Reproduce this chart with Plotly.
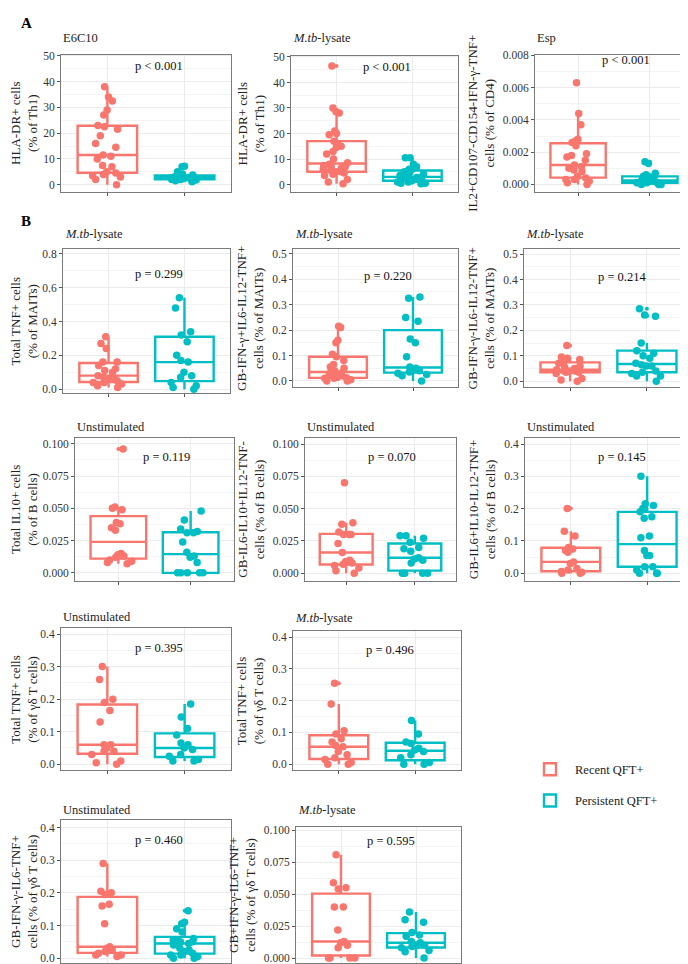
import plotly.graph_objects as go

# ---------------- DATA ----------------
GROUPS = ["Recent QFT+", "Persistent QFT+"]

panel_titles = ["E6C10", "<i>M.tb</i>-lysate", "Esp",
                "<i>M.tb</i>-lysate", "<i>M.tb</i>-lysate", "<i>M.tb</i>-lysate",
                "Unstimulated", "Unstimulated", "Unstimulated",
                "Unstimulated", "<i>M.tb</i>-lysate",
                "Unstimulated", "<i>M.tb</i>-lysate"]

y_titles = ["HLA-DR+ cells<br>(% of Th1)", "HLA-DR+ cells<br>(% of Th1)",
            "IL2+CD107-CD154-IFN-γ-TNF+<br>cells (% of CD4)",
            "Total TNF+ cells<br>(% of MAITs)", "GB-IFN-γ+IL6-IL12-TNF+<br>cells (% of MAITs)",
            "GB-IFN-γ-IL6-IL12-TNF+<br>cells (% of MAITs)",
            "Total IL10+ cells<br>(% of B cells)", "GB-IL6-IL10+IL12-TNF-<br>cells (% of B cells)",
            "GB-IL6+IL10-IL12-TNF+<br>cells (% of B cells)",
            "Total TNF+ cells<br>(% of γδ T cells)", "Total TNF+ cells<br>(% of γδ T cells)",
            "GB-IFN-γ-IL6-TNF+<br>cells (% of γδ T cells)", "GB+IFN-γ-IL6-TNF+<br>cells (% of γδ T cells)"]

p_labels = ["p < 0.001", "p < 0.001", "p < 0.001",
            "p = 0.299", "p = 0.220", "p = 0.214",
            "p = 0.119", "p = 0.070", "p = 0.145",
            "p = 0.395", "p = 0.496",
            "p = 0.460", "p = 0.595"]
p_label_y = [46, 46, 0.0077, 0.68, 0.414, 0.41, 0.090, 0.090, 0.36, 0.357, 0.36, 0.363, 0.092]

y_tick_max = [50, 50, 0.008, 0.8, 0.5, 0.5, 0.1, 0.1, 0.4, 0.4, 0.4, 0.4, 0.1]
y_tick_step = [10, 10, 0.002, 0.2, 0.1, 0.1, 0.025, 0.025, 0.1, 0.1, 0.1, 0.1, 0.025]
y_tick_format = ["d", "d", ".3f", ".1f", ".1f", ".1f", ".3f", ".3f", ".1f", ".1f", ".1f", ".1f", ".3f"]

a1_recent = [0, 2, 3, 3.5, 4, 4.5, 5, 7, 7.5, 10, 11, 11.5, 14.5, 16, 19, 21.5, 22.5, 23, 27, 29, 32.5, 34, 38]
a1_persistent = [1.2, 1.5, 1.8, 2.0, 2.0, 2.2, 2.4, 2.5, 2.6, 2.7, 2.8, 2.9, 3.0, 3.2, 3.3, 3.8, 4.2, 5.0, 7.0, 7.2]
a2_recent = [0.3, 1, 2, 3.5, 4, 4.5, 5, 5, 5.5, 6, 6.5, 7, 7, 7.5, 8, 8.5, 10, 12, 13, 14.5, 15, 16, 17, 19.5, 20, 21, 28, 28.5, 30, 46.5]
a2_persistent = [0.3, 0.5, 0.5, 1, 1, 1.5, 1.5, 2, 2, 2.5, 2.8, 3, 3, 3.5, 3.5, 4, 4.5, 5, 6, 6, 7, 8, 10.5, 10.5]
a3_recent = [0, 0.0001, 0.0002, 0.0003, 0.0003, 0.0004, 0.0005, 0.0008, 0.0009, 0.0010, 0.0011, 0.0012, 0.0015,
             0.0017, 0.0018, 0.0019, 0.0024, 0.0026, 0.0027, 0.0028, 0.0037, 0.0044, 0.0063]
a3_persistent = [0, 0, 0, 0.0001, 0.0001, 0.0001, 0.0002, 0.0002, 0.0002, 0.0003, 0.0003, 0.0004, 0.0005, 0.0005,
                 0.0006, 0.0007, 0.0013, 0.0014]
b1_mait_tnf_recent = [0.01, 0.02, 0.03, 0.04, 0.04, 0.05, 0.06, 0.07, 0.07, 0.08, 0.10, 0.11, 0.12, 0.14, 0.16, 0.16, 0.24, 0.27, 0.31]
b1_mait_tnf_persistent = [0, 0.01, 0.02, 0.04, 0.07, 0.08, 0.10, 0.16, 0.17, 0.20, 0.28, 0.32, 0.34, 0.48, 0.54]
b1_mait_ifng_recent = [0, 0, 0.005, 0.01, 0.01, 0.012, 0.015, 0.02, 0.025, 0.028, 0.03, 0.04, 0.05, 0.055, 0.065, 0.08,
                       0.095, 0.105, 0.15, 0.16, 0.21, 0.215]
b1_mait_ifng_persistent = [0, 0.02, 0.025, 0.03, 0.035, 0.04, 0.045, 0.05, 0.055, 0.095, 0.15, 0.165, 0.235, 0.25, 0.325, 0.33]
b1_mait_gb_recent = [0, 0.005, 0.01, 0.03, 0.035, 0.035, 0.04, 0.04, 0.04, 0.045, 0.05, 0.055, 0.06, 0.07, 0.075, 0.085,
                     0.09, 0.095, 0.14]
b1_mait_gb_persistent = [0, 0.02, 0.02, 0.03, 0.035, 0.04, 0.06, 0.06, 0.065, 0.07, 0.09, 0.10, 0.11, 0.12, 0.15, 0.255, 0.26, 0.285]
b2_il10_recent = [0.007, 0.008, 0.009, 0.010, 0.012, 0.013, 0.014, 0.015, 0.033, 0.035, 0.038, 0.039, 0.049, 0.050, 0.051, 0.096]
b2_il10_persistent = [0, 0, 0, 0, 0, 0.008, 0.012, 0.013, 0.016, 0.024, 0.031, 0.031, 0.032, 0.034, 0.041, 0.048]
b2_gbil10_recent = [0, 0.002, 0.004, 0.006, 0.007, 0.008, 0.009, 0.010, 0.016, 0.023, 0.030, 0.030, 0.030, 0.032, 0.038, 0.039, 0.070]
b2_gbil10_persistent = [0, 0, 0, 0, 0.008, 0.010, 0.011, 0.012, 0.017, 0.019, 0.020, 0.024, 0.027, 0.029, 0.029]
b2_gbil6_recent = [0, 0, 0.003, 0.005, 0.01, 0.015, 0.03, 0.035, 0.065, 0.07, 0.075, 0.08, 0.115, 0.13, 0.20]
b2_gbil6_persistent = [0, 0, 0, 0.01, 0.02, 0.02, 0.055, 0.055, 0.07, 0.11, 0.115, 0.17, 0.175, 0.19, 0.20, 0.21, 0.215, 0.30]
b3_gd_unstim_recent = [0, 0.005, 0.01, 0.03, 0.04, 0.04, 0.05, 0.06, 0.06, 0.13, 0.165, 0.19, 0.20, 0.26, 0.30]
b3_gd_unstim_persistent = [0.01, 0.01, 0.015, 0.025, 0.03, 0.045, 0.05, 0.06, 0.065, 0.09, 0.11, 0.145, 0.185]
b3_gd_mtb_recent = [0, 0, 0.005, 0.015, 0.02, 0.03, 0.04, 0.055, 0.06, 0.07, 0.08, 0.095, 0.105, 0.19, 0.255]
b3_gd_mtb_persistent = [0, 0, 0.005, 0.02, 0.03, 0.04, 0.045, 0.05, 0.065, 0.07, 0.095, 0.138]
b4_gd_unstim_recent = [0.005, 0.01, 0.01, 0.015, 0.02, 0.025, 0.03, 0.035, 0.105, 0.16, 0.165, 0.195, 0.2, 0.205, 0.29]
b4_gd_unstim_persistent = [0, 0, 0.005, 0.01, 0.01, 0.015, 0.02, 0.025, 0.03, 0.04, 0.045, 0.05, 0.05, 0.055, 0.055, 0.06,
                           0.08, 0.09, 0.105, 0.11, 0.145]
b4_gd_mtb_recent = [0, 0, 0, 0, 0.008, 0.010, 0.012, 0.013, 0.022, 0.040, 0.040, 0.054, 0.055, 0.059, 0.081]
b4_gd_mtb_persistent = [0, 0.005, 0.006, 0.008, 0.009, 0.010, 0.010, 0.012, 0.013, 0.017, 0.018, 0.020, 0.028, 0.030, 0.036]

recent_sets = [a1_recent, a2_recent, a3_recent, b1_mait_tnf_recent, b1_mait_ifng_recent, b1_mait_gb_recent,
               b2_il10_recent, b2_gbil10_recent, b2_gbil6_recent, b3_gd_unstim_recent, b3_gd_mtb_recent,
               b4_gd_unstim_recent, b4_gd_mtb_recent]
persistent_sets = [a1_persistent, a2_persistent, a3_persistent, b1_mait_tnf_persistent, b1_mait_ifng_persistent,
                   b1_mait_gb_persistent, b2_il10_persistent, b2_gbil10_persistent, b2_gbil6_persistent,
                   b3_gd_unstim_persistent, b3_gd_mtb_persistent, b4_gd_unstim_persistent, b4_gd_mtb_persistent]

# ---------------- LAYOUT / STYLE ----------------
W, H = 688, 964
COLORS = ["#F8766D", "#00BFC4"]
FONT = "Liberation Serif"
BOX_WIDTH = 0.77

# panel boxes in pixels: left, top, right, bottom
boxes = [(53, 42, 223, 180), (283, 43, 450, 180), (527, 42, 685, 180),
         (55, 238, 222, 383), (285, 238, 450, 377), (516, 238, 685, 377),
         (67, 428, 226, 572), (297, 428, 448, 572), (517, 428, 685, 572),
         (53, 620, 223, 763), (285, 623, 453, 763),
         (53, 813, 223, 957), (288, 820, 453, 957)]
y_ranges = [(-2.7, 50.4), (-2.8, 50.5), (-0.00045, 0.00804),
            (-0.024, 0.827), (-0.025, 0.518), (-0.024, 0.519),
            (-0.0062, 0.1046), (-0.0059, 0.1048), (-0.0236, 0.419),
            (-0.019, 0.417), (-0.0197, 0.418),
            (-0.015, 0.4226), (-0.0039, 0.1026)]
ptitle_offset_px = [17, 18, 17, 15, 15, 15, 11, 11, 11, 12, 14, 10, 17]

fig = go.Figure()
annotations = []
layout_axes = {}

for i in range(len(boxes)):
    k = "" if i == 0 else str(i + 1)
    xa, ya = "x" + k, "y" + k
    l, t, r, b = boxes[i]
    for g, (vals, col) in enumerate(zip([recent_sets[i], persistent_sets[i]], COLORS)):
        xs = [GROUPS[g]] * len(vals)
        fig.add_trace(go.Box(
            x=xs, y=vals, name=GROUPS[g], xaxis=xa, yaxis=ya, width=BOX_WIDTH,
            boxpoints="outliers", jitter=0, pointpos=0,
            marker=dict(color=col, size=4),
            line=dict(color=col, width=2.4), fillcolor="white",
            whiskerwidth=0, legendgroup=GROUPS[g], showlegend=(i == 0),
            hoverinfo="skip"))
        fig.add_trace(go.Box(
            x=xs, y=vals, name=GROUPS[g], xaxis=xa, yaxis=ya, width=BOX_WIDTH,
            boxpoints="all", jitter=0.62, pointpos=0,
            marker=dict(color=col, size=7.5, line=dict(width=0)),
            line=dict(color="rgba(0,0,0,0)", width=0), fillcolor="rgba(0,0,0,0)",
            whiskerwidth=0, legendgroup=GROUPS[g], showlegend=False,
            hoverinfo="skip"))

    layout_axes["xaxis" + k] = dict(
        domain=[l / W, r / W], anchor=ya, type="category",
        categoryorder="array", categoryarray=GROUPS, range=[-0.6, 1.6],
        showticklabels=False, ticks="outside", ticklen=3, tickcolor="#555",
        showgrid=True, gridcolor="#EBEBEB", gridwidth=1,
        showline=True, linecolor="#7a7a7a", linewidth=1, mirror=True,
        zeroline=False, fixedrange=True)
    layout_axes["yaxis" + k] = dict(
        domain=[1 - b / H, 1 - t / H], anchor=xa, range=list(y_ranges[i]),
        tick0=0, dtick=y_tick_step[i], tickformat=y_tick_format[i],
        ticks="outside", ticklen=3, tickcolor="#555",
        tickfont=dict(family=FONT, size=11.5, color="#333"),
        title=dict(text=y_titles[i], standoff=5, font=dict(family=FONT, size=13, color="#222")),
        showgrid=True, gridcolor="#EBEBEB", gridwidth=1,
        minor=dict(dtick=y_tick_step[i] / 2, tick0=0, showgrid=True, gridcolor="#F4F4F4", gridwidth=0.8),
        showline=True, linecolor="#7a7a7a", linewidth=1, mirror=True,
        zeroline=False, fixedrange=True)

    # panel title
    annotations.append(dict(text=panel_titles[i], xref="paper", yref="paper",
                            x=l / W, y=1 - (t - ptitle_offset_px[i]) / H,
                            xanchor="left", yanchor="middle", showarrow=False,
                            font=dict(family=FONT, size=12.5, color="#222")))
    # p-value
    annotations.append(dict(text=p_labels[i], xref=xa, yref=ya, x=0.67, y=p_label_y[i],
                            xanchor="center", yanchor="middle", showarrow=False,
                            font=dict(family=FONT, size=12.5, color="#111")))

annotations.append(dict(text="<b>A</b>", xref="paper", yref="paper", x=18 / W, y=1 - 10 / H,
                        xanchor="center", yanchor="middle", showarrow=False,
                        font=dict(family=FONT, size=15, color="black")))
annotations.append(dict(text="<b>B</b>", xref="paper", yref="paper", x=18 / W, y=1 - 210 / H,
                        xanchor="center", yanchor="middle", showarrow=False,
                        font=dict(family=FONT, size=15, color="black")))

fig.update_layout(
    width=W, height=H, margin=dict(l=0, r=0, t=0, b=0),
    paper_bgcolor="white", plot_bgcolor="white",
    boxmode="overlay",
    font=dict(family=FONT, size=12, color="#222"),
    showlegend=True,
    legend=dict(x=517 / W, y=1 - 747 / H, xanchor="left", yanchor="top",
                font=dict(family=FONT, size=12.5, color="#222"),
                traceorder="grouped", tracegroupgap=12, itemwidth=40,
                bgcolor="rgba(0,0,0,0)"),
    annotations=annotations,
    **layout_axes)

fig.write_html("out.html")
